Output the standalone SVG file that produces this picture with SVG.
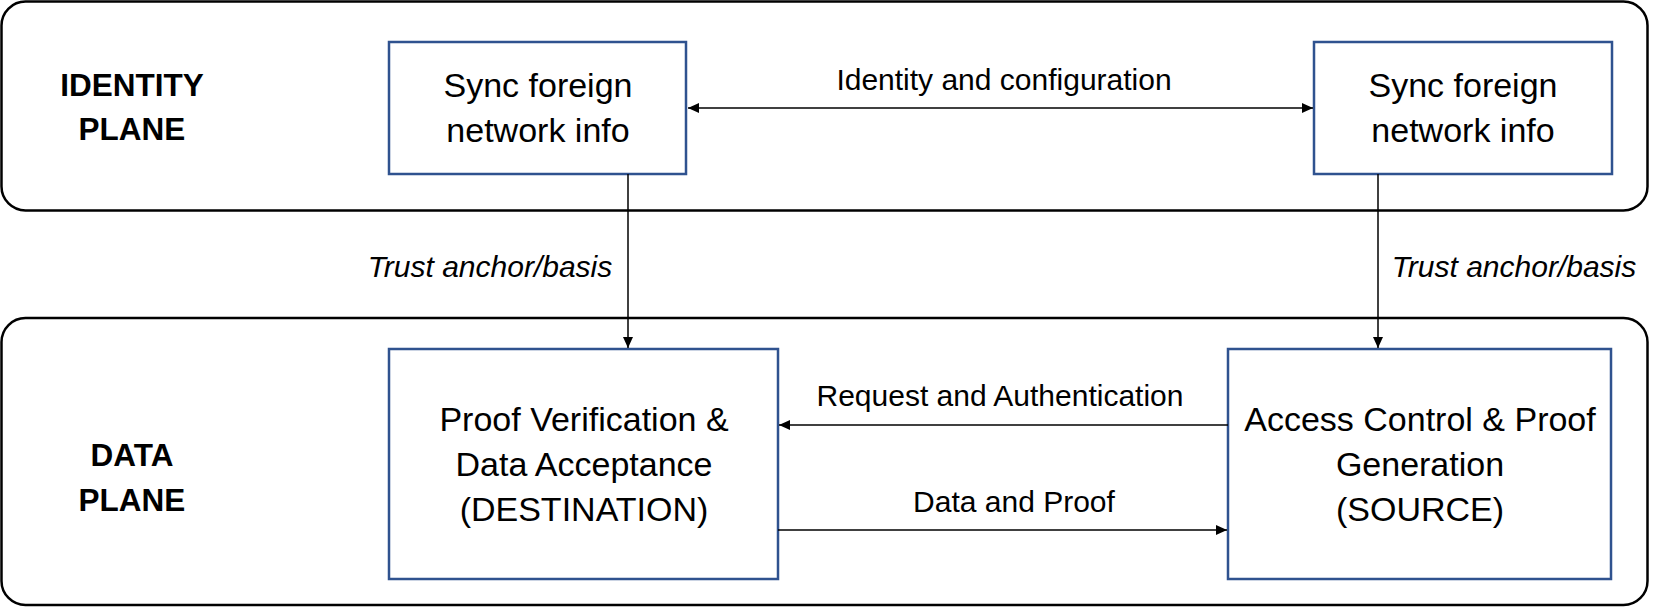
<svg xmlns="http://www.w3.org/2000/svg" width="1660" height="607" viewBox="0 0 1660 607">
<style>
  .plane { fill: #fff; stroke: #000; stroke-width: 2.5; }
  .node { fill: #fff; stroke: #2F528F; stroke-width: 2.5; }
  .ntext { font-family: "Liberation Sans", Arial, sans-serif; font-size: 34px; fill: #000; text-anchor: middle; }
  .ptext { font-family: "Liberation Sans", Arial, sans-serif; font-size: 31.5px; font-weight: bold; fill: #000; text-anchor: middle; }
  .ltext { font-family: "Liberation Sans", Arial, sans-serif; font-size: 30px; fill: #000; text-anchor: middle; }
  .itext { font-family: "Liberation Sans", Arial, sans-serif; font-size: 30px; font-style: italic; fill: #000; text-anchor: middle; }
  .conn { fill: none; stroke: #000; stroke-width: 1.5; }
</style>
<defs>
  <marker id="arrow" viewBox="0 0 10 10" refX="10" refY="5" markerWidth="11" markerHeight="10" markerUnits="userSpaceOnUse" orient="auto-start-reverse" preserveAspectRatio="none">
    <path d="M0,0 L10,5 L0,10 z" fill="#000"/>
  </marker>
</defs>
<rect width="1660" height="607" fill="#fff"/>

<g id="identity-plane">
  <rect class="plane" x="1.5" y="1.5" width="1646" height="209" rx="24" ry="24"/>
  <text class="ptext" x="132" y="96">IDENTITY</text>
  <text class="ptext" x="132" y="140">PLANE</text>
</g>

<g id="data-plane">
  <rect class="plane" x="1.5" y="318" width="1646" height="287" rx="24" ry="24"/>
  <text class="ptext" x="132" y="466">DATA</text>
  <text class="ptext" x="132" y="511">PLANE</text>
</g>

<g id="sync-left">
  <rect class="node" x="389" y="42" width="297" height="132"/>
  <text class="ntext" x="538" y="97">Sync foreign</text>
  <text class="ntext" x="538" y="142">network info</text>
</g>

<g id="sync-right">
  <rect class="node" x="1314" y="42" width="298" height="132"/>
  <text class="ntext" x="1463" y="97">Sync foreign</text>
  <text class="ntext" x="1463" y="142">network info</text>
</g>

<g id="destination">
  <rect class="node" x="389" y="349" width="389" height="230"/>
  <text class="ntext" x="584" y="431">Proof Verification &amp;</text>
  <text class="ntext" x="584" y="476">Data Acceptance</text>
  <text class="ntext" x="584" y="521">(DESTINATION)</text>
</g>

<g id="source">
  <rect class="node" x="1228" y="349" width="383" height="230"/>
  <text class="ntext" x="1420" y="431">Access Control &amp; Proof</text>
  <text class="ntext" x="1420" y="476">Generation</text>
  <text class="ntext" x="1420" y="521">(SOURCE)</text>
</g>

<g id="connectors">
  <line class="conn" x1="688" y1="108" x2="1313" y2="108" marker-start="url(#arrow)" marker-end="url(#arrow)"/>
  <text class="ltext" x="1004" y="90">Identity and configuration</text>

  <line class="conn" x1="628" y1="174" x2="628" y2="348" marker-end="url(#arrow)"/>
  <text class="itext" x="490" y="277">Trust anchor/basis</text>

  <line class="conn" x1="1378" y1="174" x2="1378" y2="348" marker-end="url(#arrow)"/>
  <text class="itext" x="1514" y="277">Trust anchor/basis</text>

  <line class="conn" x1="1228" y1="425" x2="779" y2="425" marker-end="url(#arrow)"/>
  <text class="ltext" x="1000" y="406">Request and Authentication</text>

  <line class="conn" x1="778" y1="530" x2="1227" y2="530" marker-end="url(#arrow)"/>
  <text class="ltext" x="1014" y="512">Data and Proof</text>
</g>
</svg>
